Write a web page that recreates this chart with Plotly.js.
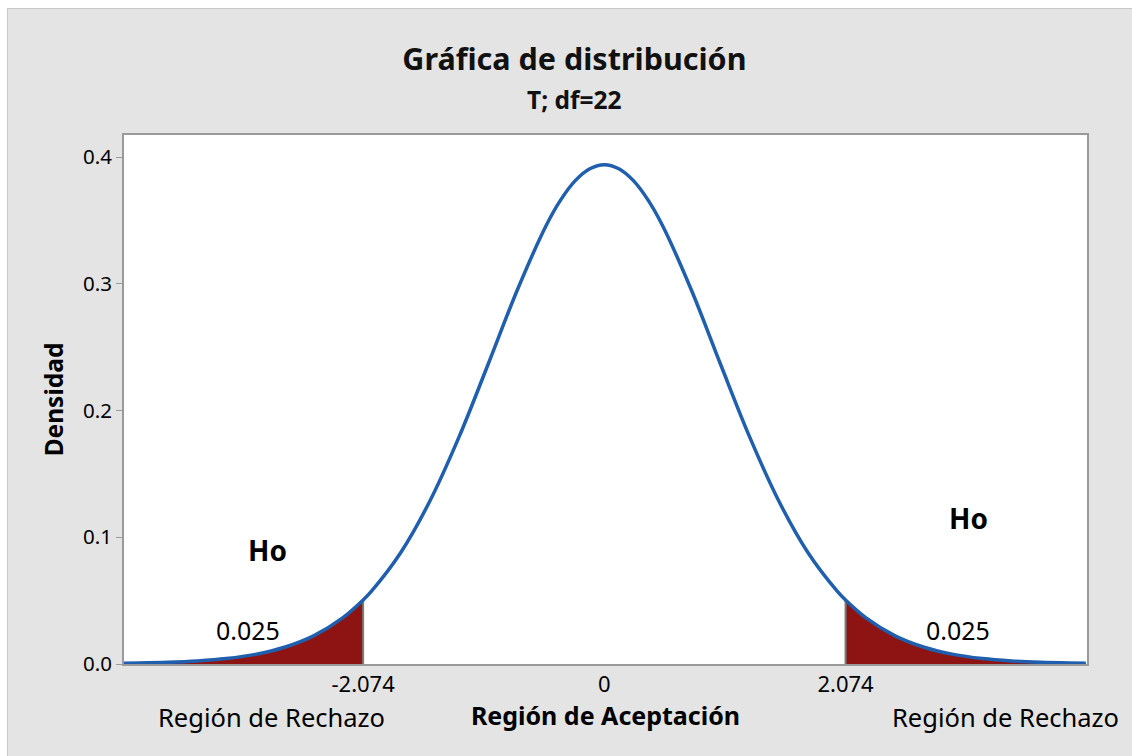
<!DOCTYPE html>
<html>
<head>
<meta charset="utf-8">
<script src="https://cdn.plot.ly/plotly-3.0.1.min.js"></script>
<style>
  html, body { margin: 0; padding: 0; background: #ffffff; }
  #frame { position: absolute; left: 7px; top: 8px; width: 1125px; height: 748px;
           border-left: 1px solid #c8c8c8; border-top: 1px solid #c8c8c8; background: #e4e4e4; }
  #chart { width: 1125px; height: 748px; }
</style>
</head>
<body>
<div id="frame"><div id="chart"></div></div>
<script>
// t-distribution density (df = 22)
const tValues = [-4.14, -4.0, -3.75, -3.5, -3.25, -3.0, -2.75, -2.5, -2.25, -2.074, -2.0, -1.75, -1.5, -1.25, -1.0, -0.75, -0.5, -0.375, -0.25, -0.125,
                 0.0, 0.125, 0.25, 0.375, 0.5, 0.75, 1.0, 1.25, 1.5, 1.75, 2.0, 2.074, 2.25, 2.5, 2.75, 3.0, 3.25, 3.5, 3.75, 4.0, 4.14];
const density = [0.0005, 0.0007, 0.0013, 0.0024, 0.0043, 0.0076, 0.0132, 0.0222, 0.0364, 0.0505, 0.0577, 0.0880, 0.1286, 0.1790, 0.2363, 0.2947, 0.3460, 0.3662, 0.3814, 0.3908,
                 0.3940, 0.3908, 0.3814, 0.3662, 0.3460, 0.2947, 0.2363, 0.1790, 0.1286, 0.0880, 0.0577, 0.0505, 0.0364, 0.0222, 0.0132, 0.0076, 0.0043, 0.0024, 0.0013, 0.0007, 0.0005];
const criticalValues = [-2.074, 2.074];
const tickValues = [-2.074, 0, 2.074];
const tickLabels = ['-2.074', '0', '2.074'];
const yTickValues = [0.0, 0.1, 0.2, 0.3, 0.4];
const tailArea = '0.025';

const lowCrit = criticalValues[0], highCrit = criticalValues[1];
const leftX = [], leftY = [], rightX = [], rightY = [];
tValues.forEach((x, i) => {
  if (x <= lowCrit) { leftX.push(x); leftY.push(density[i]); }
  if (x >= highCrit) { rightX.push(x); rightY.push(density[i]); }
});
const critY = criticalValues.map(c => density[tValues.indexOf(c)]);

const red = '#8e1414';
const traces = [
  { x: leftX, y: leftY, type: 'scatter', mode: 'lines', line: { width: 0, shape: 'spline' },
    fill: 'tozeroy', fillcolor: red, hoverinfo: 'skip', showlegend: false },
  { x: rightX, y: rightY, type: 'scatter', mode: 'lines', line: { width: 0, shape: 'spline' },
    fill: 'tozeroy', fillcolor: red, hoverinfo: 'skip', showlegend: false },
  { x: [lowCrit, lowCrit], y: [0, critY[0]], type: 'scatter', mode: 'lines',
    line: { color: '#7a7a7a', width: 2 }, showlegend: false, hoverinfo: 'skip' },
  { x: [highCrit, highCrit], y: [0, critY[1]], type: 'scatter', mode: 'lines',
    line: { color: '#7a7a7a', width: 2 }, showlegend: false, hoverinfo: 'skip' },
  { x: tValues, y: density, type: 'scatter', mode: 'lines',
    line: { color: '#1f5fad', width: 3.5, shape: 'spline', smoothing: 1 }, showlegend: false }
];

const font = 'Noto Sans, Open Sans, sans-serif';
const layout = {
  width: 1125, height: 748,
  paper_bgcolor: '#e4e4e4', plot_bgcolor: '#ffffff',
  margin: { l: 116, r: 46, t: 126, b: 93 },
  font: { family: font, color: '#000000' },
  title: { text: '<b>Gráfica de distribución</b>', font: { size: 30.5, family: font, color: '#111' },
           x: 0.5035, xanchor: 'center', xref: 'container', y: 1 - 50 / 748, yanchor: 'middle' },
  xaxis: {
    range: [-4.13, 4.15], tickmode: 'array', tickvals: tickValues, ticktext: tickLabels,
    ticks: '', tickfont: { size: 22 }, showgrid: false, zeroline: false,
    showline: true, linecolor: '#9a9a9a', linewidth: 2, mirror: true,
    title: { text: '<b>Región de Aceptación</b>', font: { size: 25 }, standoff: 8 }
  },
  yaxis: {
    range: [0, 0.4174], tickmode: 'array', tickvals: yTickValues, tickformat: '.1f',
    ticks: 'outside', ticklen: 6, tickcolor: '#9a9a9a', tickwidth: 1, tickfont: { size: 20.5 },
    showgrid: false, zeroline: false, showline: true, linecolor: '#9a9a9a', linewidth: 2, mirror: true,
    title: { text: '<b>Densidad</b>', font: { size: 24.5 }, standoff: 12 }
  },
  annotations: [
    { xref: 'paper', yref: 'paper', x: (573 - 123) / 963, y: 1 + 36 / 529, text: '<b>T; df=22</b>', showarrow: false,
      font: { size: 24.5, color: '#111' }, xanchor: 'center', yanchor: 'middle' },
    { x: -2.9, y: 0.09, text: '<b>Ho</b>', showarrow: false, font: { size: 28 } },
    { x: 3.13, y: 0.115, text: '<b>Ho</b>', showarrow: false, font: { size: 28 } },
    { x: -3.06, y: 0.027, text: tailArea, showarrow: false, font: { size: 25 } },
    { x: 3.04, y: 0.027, text: tailArea, showarrow: false, font: { size: 25 } },
    { x: -2.86, yref: 'paper', y: -(716 - 663) / 529, text: 'Región de Rechazo', showarrow: false,
      font: { size: 25.5 }, yanchor: 'middle' },
    { x: 3.45, yref: 'paper', y: -(716 - 663) / 529, text: 'Región de Rechazo', showarrow: false,
      font: { size: 25.5 }, yanchor: 'middle' }
  ]
};

Plotly.newPlot('chart', traces, layout, { displayModeBar: false, staticPlot: true });
</script>
</body>
</html>
